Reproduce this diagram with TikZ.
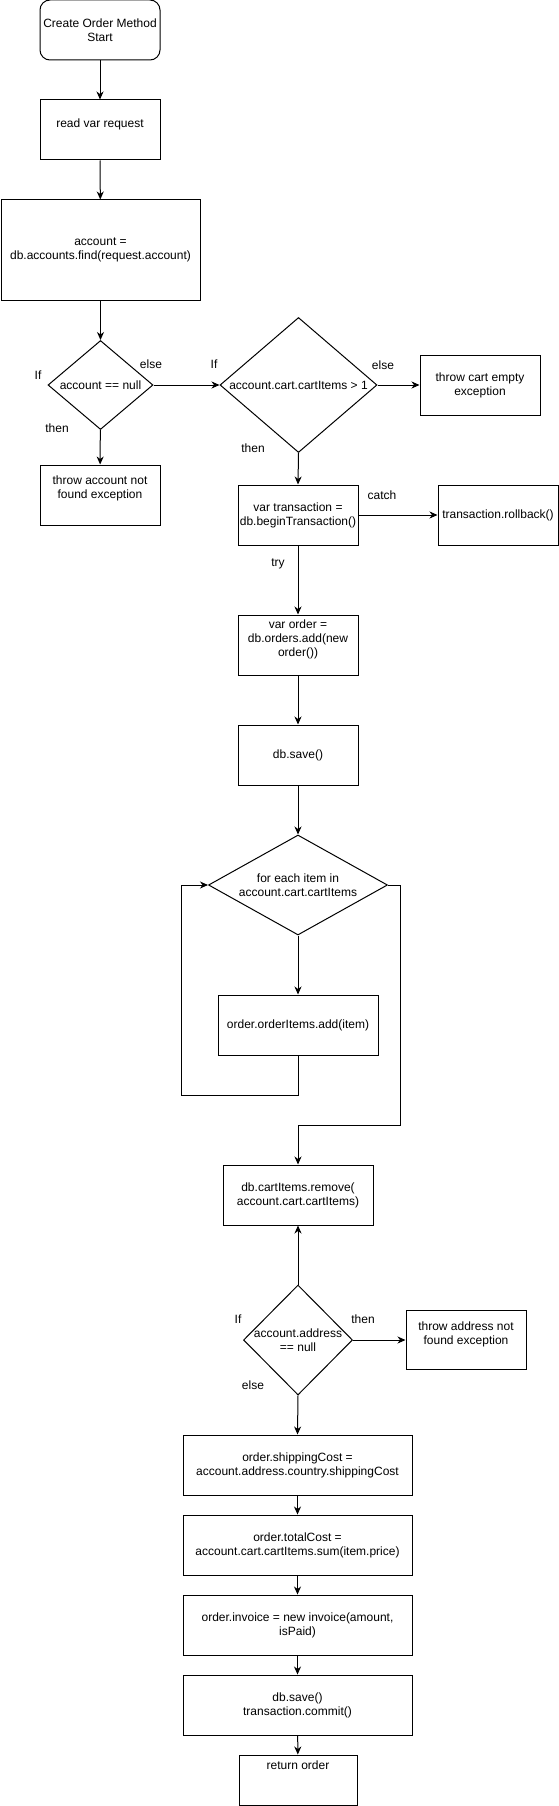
\documentclass[tikz,border=0pt]{standalone}
\usepackage{fontspec}
\setmainfont{Liberation Sans}
\usetikzlibrary{shapes.geometric,arrows.meta}

\begin{document}
\begin{tikzpicture}[x=1pt,y=-1pt,font=\fontsize{12}{14}\selectfont,
  box/.style={draw,line width=1pt,minimum width=120pt,minimum height=60pt,inner sep=0pt,align=center},
  wide/.style={box,minimum width=229pt},
  dec/.style={draw,line width=1pt,diamond,inner sep=0pt},
  arr/.style={line width=1pt,-{Stealth[length=8pt,width=7pt,inset=2.5pt]}},
  lbl/.style={inner sep=0pt}]

\useasboundingbox (0,0) rectangle (559,1806);

\begin{scope}
\node[box,rounded corners=10pt] (start) at (100,30) {Create Order Method\\Start};
\node[box,label={[yshift=6pt]center:read var request}] (read) at (100,130) {};
\node[box,minimum width=199pt,minimum height=100pt] (acct) at (100.5,250) {account =\\db.accounts.find(request.account)};
\node[dec,minimum width=105pt,minimum height=89pt,label={center:{account == null}}] (d1) at (100.5,385) {};
\node[box,label={[yshift=7pt,align=center]center:throw account not\\found exception}] (thracc) at (100,495) {};

\node[lbl] (if1) at (38,375) {If};
\node[lbl] (else1) at (151,364) {else};
\node[lbl] (then1) at (57,428) {then};

\draw[arr] (start) -- (read);
\draw[arr] (read) -- (acct);
\draw[arr] (acct) -- (d1);
\draw[arr] (d1) -- (thracc);
\end{scope}

\begin{scope}
\node[dec,minimum width=157pt,minimum height=135pt,label={center:{account.cart.cartItems > 1}}] (d2) at (298.5,385) {};
\node[box] (thrcart) at (480,385) {throw cart empty\\exception};
\node[box] (trans) at (298,515) {var transaction =\\db.beginTransaction()};
\node[box] (rollback) at (498,515) {transaction.rollback()};
\node[box,label={[yshift=6pt,align=center]center:var order =\\db.orders.add(new\\order())}] (order) at (298,645) {};
\node[box] (save) at (298,755) {db.save()};

\node[lbl] (if2) at (214,364) {If};
\node[lbl] (else2) at (383,365) {else};
\node[lbl] (then2) at (253,448) {then};
\node[lbl] (catch) at (382,495) {catch};
\node[lbl] (try) at (278,564) {try};

\draw[arr] (d1.east) -- (d2.west);
\draw[arr] (d2.east) -- (thrcart.west);
\draw[arr] (d2.south) -- (trans.north);
\draw[arr] (trans.east) -- (rollback.west);
\draw[arr] (trans) -- (order);
\draw[arr] (order) -- (save);
\end{scope}

\begin{scope}
\coordinate (lp1) at (298,1095);
\coordinate (lp2) at (181,1095);
\coordinate (ex) at (400,1125);

\node[dec,minimum width=179pt,minimum height=100pt,label={[align=center]center:for each item in\\account.cart.cartItems}] (d3) at (298,885) {};
\node[box,minimum width=160pt] (additem) at (298,1025) {order.orderItems.add(item)};
\node[box,minimum width=150pt] (remove) at (298,1195) {db.cartItems.remove(\\account.cart.cartItems)};

\draw[arr] (save) -- (d3);
\draw[arr] (d3) -- (additem);
\draw[arr] (additem.south) -- (lp1) -- (lp2) |- (d3.west);
\draw[arr] (d3.east) -| (ex) -| (remove.north);
\end{scope}

\begin{scope}
\node[dec,minimum width=109pt,minimum height=110pt,label={[align=center]center:account.address\\== null}] (d4) at (298,1340) {};
\node[box,minimum height=59pt,label={[yshift=6pt,align=center]center:throw address not\\found exception}] (thraddr) at (466,1340) {};
\node[wide] (ship) at (297.5,1465) {order.shippingCost =\\account.address.country.shippingCost};
\node[wide] (total) at (297.5,1545) {order.totalCost =\\account.cart.cartItems.sum(item.price)};
\node[wide] (invoice) at (297.5,1625) {order.invoice = new invoice(amount,\\isPaid)};
\node[wide] (commit) at (297.5,1705) {db.save()\\transaction.commit()};
\node[box,minimum width=118pt,minimum height=50pt,label={[yshift=15pt]center:return order}] (ret) at (298,1780) {};

\node[lbl] (if4) at (238,1319) {If};
\node[lbl] (then4) at (363,1319) {then};
\node[lbl] (else4) at (253,1385) {else};

\draw[arr] (d4.north) -- (remove.south);
\draw[arr] (d4.east) -- (thraddr.west);
\draw[arr] (d4.south) -- (ship.north);
\draw[arr] (ship) -- (total);
\draw[arr] (total) -- (invoice);
\draw[arr] (invoice) -- (commit);
\draw[arr] (commit) -- (ret);
\end{scope}

\end{tikzpicture}
\end{document}
